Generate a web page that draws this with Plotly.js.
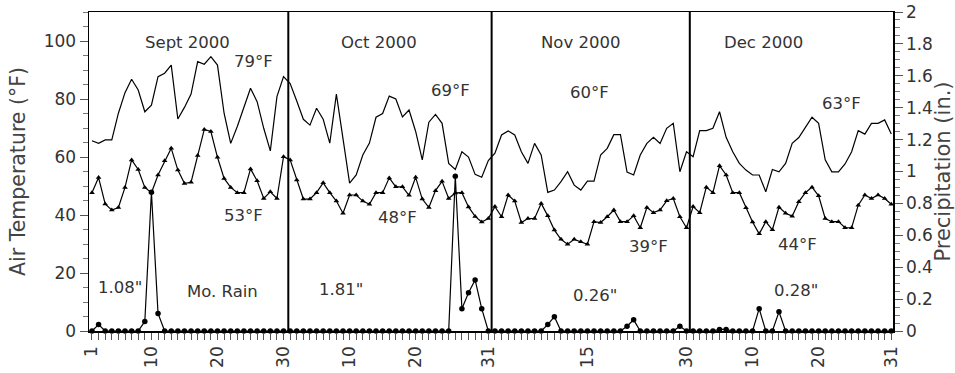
<!DOCTYPE html>
<html>
<head>
<meta charset="utf-8">
<script src="https://cdn.plot.ly/plotly-3.0.1.min.js"></script>
<style>
  html, body { margin: 0; padding: 0; background: #fff; }
  #chart { width: 955px; height: 373px; }
</style>
</head>
<body>
<div id="chart"></div>
<script>
// ---- data ----
const monthNames = ['Sept 2000', 'Oct 2000', 'Nov 2000', 'Dec 2000'];
const daysInMonth = [30, 31, 30, 31];

const sepMax = [65.6, 64.7, 65.9, 65.9, 75.1, 82.2, 86.8, 83.1, 75.6, 77.9, 87.7, 88.9, 91.7, 73.1, 77.1, 81.7, 92.9, 92.0, 94.6, 91.7, 75.1, 64.7, 70.5, 77.4, 83.7, 79.1, 69.9, 62.1, 80.8, 87.7];
const octMax = [85.3, 79.3, 73.0, 71.0, 76.8, 73.0, 64.8, 81.7, 66.5, 51.0, 53.8, 60.7, 64.8, 73.7, 75.0, 81.0, 80.0, 73.8, 76.2, 68.8, 59.0, 72.0, 74.7, 71.6, 57.8, 55.7, 61.8, 60.0, 54.0, 53.0, 58.8];
const novMax = [61.3, 67.6, 69.0, 67.6, 61.8, 57.8, 64.7, 60.7, 47.8, 48.6, 51.5, 54.9, 50.3, 48.6, 51.7, 51.7, 60.7, 63.0, 67.7, 67.7, 54.8, 53.8, 60.7, 64.7, 66.8, 64.7, 69.9, 71.6, 54.9, 61.8];
const decMax = [60.1, 69.1, 69.1, 69.9, 75.6, 66.8, 61.8, 57.8, 55.5, 53.8, 53.8, 48.0, 55.7, 54.9, 57.8, 64.7, 66.7, 70.2, 73.7, 71.6, 59.0, 54.9, 54.9, 57.6, 61.8, 69.1, 67.9, 71.6, 71.6, 72.8, 67.9];

const sepMin = [47.7, 52.9, 43.8, 41.7, 42.6, 49.5, 59.0, 55.7, 49.5, 47.7, 53.8, 58.7, 63.0, 55.5, 50.9, 51.3, 60.5, 69.5, 68.8, 59.9, 52.6, 49.5, 47.7, 47.7, 55.9, 51.8, 45.7, 48.0, 45.7, 60.1];
const octMin = [59.0, 52.1, 45.5, 45.5, 47.7, 51.1, 47.7, 44.8, 40.6, 46.9, 46.9, 44.8, 43.7, 47.7, 47.7, 52.8, 49.7, 49.7, 46.8, 53.0, 45.5, 42.6, 48.4, 51.6, 45.7, 47.6, 47.7, 42.8, 39.5, 37.6, 38.8];
const novMin = [42.9, 39.4, 46.9, 44.8, 37.4, 38.8, 38.8, 44.0, 39.7, 34.8, 31.6, 29.9, 31.6, 30.8, 29.9, 37.7, 37.4, 39.4, 41.7, 37.7, 37.7, 39.7, 35.6, 42.6, 40.8, 41.7, 44.9, 45.7, 39.4, 35.6];
const decMin = [42.9, 40.8, 49.6, 47.7, 57.0, 53.8, 47.7, 47.7, 42.5, 37.6, 33.5, 37.7, 34.9, 42.7, 40.6, 39.6, 44.6, 47.7, 49.6, 46.6, 38.8, 37.7, 37.7, 35.6, 35.6, 43.4, 46.9, 45.7, 46.9, 45.7, 43.7];

const sepRain = [0, 0.04, 0, 0, 0, 0, 0, 0, 0.06, 0.87, 0.11, 0, 0, 0, 0, 0, 0, 0, 0, 0, 0, 0, 0, 0, 0, 0, 0, 0, 0, 0];
const octRain = [0, 0, 0, 0, 0, 0, 0, 0, 0, 0, 0, 0, 0, 0, 0, 0, 0, 0, 0, 0, 0, 0, 0, 0, 0, 0.97, 0.14, 0.24, 0.32, 0.14, 0];
const novRain = [0, 0, 0, 0, 0, 0, 0, 0, 0.04, 0.09, 0, 0, 0, 0, 0, 0, 0, 0, 0, 0, 0.03, 0.07, 0, 0, 0, 0, 0, 0, 0.03, 0];
const decRain = [0, 0, 0, 0, 0.01, 0.01, 0, 0, 0, 0, 0.14, 0, 0, 0.12, 0, 0, 0, 0, 0, 0, 0, 0, 0, 0, 0, 0, 0, 0, 0, 0, 0];

const maxMeanLabels = ['79°F', '69°F', '60°F', '63°F'];
const minMeanLabels = ['53°F', '48°F', '39°F', '44°F'];
const rainTotalLabels = ['1.08"', '1.81"', '0.26"', '0.28"'];
const tickDaysByMonth = [[1, 10, 20, 30], [10, 20, 31], [15, 30], [10, 20, 31]];

// ---- derived ----
const maxTemp = sepMax.concat(octMax, novMax, decMax);
const minTemp = sepMin.concat(octMin, novMin, decMin);
const rain = sepRain.concat(octRain, novRain, decRain);
const monthStart = [];
let acc = 0;
daysInMonth.forEach(d => { monthStart.push(acc); acc += d; });
const nDays = acc;
const xIdx = Array.from({length: nDays}, (_, i) => i);

const tickvals = xIdx.slice();
const ticktext = xIdx.map(() => '');
tickDaysByMonth.forEach((days, m) => {
  days.forEach(d => { ticktext[monthStart[m] + d - 1] = String(d); });
});

const ink = '#000';
const txt = '#333';
const fontFam = 'DejaVu Sans, Verdana, sans-serif';

const traces = [
  {
    x: xIdx, y: maxTemp, type: 'scatter', mode: 'lines',
    line: {color: ink, width: 1.2}, hoverinfo: 'skip', cliponaxis: false
  },
  {
    x: xIdx, y: minTemp, type: 'scatter', mode: 'lines+markers',
    line: {color: ink, width: 1.2},
    marker: {symbol: 'triangle-up', size: 5, color: ink},
    hoverinfo: 'skip', cliponaxis: false
  },
  {
    x: xIdx, y: rain, type: 'scatter', mode: 'lines+markers', yaxis: 'y2',
    line: {color: ink, width: 1.2},
    marker: {symbol: 'circle', size: 5.5, color: ink},
    hoverinfo: 'skip', cliponaxis: false
  }
];

// month separator lines (between last day of month and first of next)
const shapes = monthStart.slice(1).map((s, k) => ({
  type: 'line', xref: 'x', yref: 'paper',
  x0: s - (k === 0 ? 0.28 : 0.5), x1: s - (k === 0 ? 0.28 : 0.5), y0: 0, y1: 1,
  line: {color: ink, width: 2}
}));

const annFont = {family: fontFam, size: 16.5, color: txt};
const ann = (text, x, y) => ({text, x, y, xref: 'x', yref: 'y', showarrow: false, font: annFont, xanchor: 'center', yanchor: 'middle'});
const annotations = [
  ann(monthNames[0], 14.5, 99.5), ann(monthNames[1], 43.4, 99.5), ann(monthNames[2], 73.9, 99.5), ann(monthNames[3], 101.6, 99.5),
  ann(maxMeanLabels[0], 24.5, 92.9), ann(maxMeanLabels[1], 54.3, 82.9), ann(maxMeanLabels[2], 75.3, 82.1), ann(maxMeanLabels[3], 113.5, 78.3),
  ann(minMeanLabels[0], 22.9, 39.7), ann(minMeanLabels[1], 46.2, 39.3), ann(minMeanLabels[2], 84.2, 29.3), ann(minMeanLabels[3], 106.8, 30.0),
  ann(rainTotalLabels[0], 4.3, 15.0), ann(rainTotalLabels[1], 37.7, 14.3), ann(rainTotalLabels[2], 76.2, 12.4), ann(rainTotalLabels[3], 106.5, 14.0),
  ann('Mo. Rain', 19.75, 13.6)
];

const layout = {
  width: 955, height: 373,
  margin: {l: 89, r: 62, t: 12, b: 42, pad: 0},
  paper_bgcolor: '#fff', plot_bgcolor: '#fff',
  showlegend: false,
  font: {family: fontFam, size: 16.5, color: txt},
  xaxis: {
    range: [-0.45, 121.26], showgrid: false, zeroline: false,
    showline: true, linecolor: ink, linewidth: 1.5, mirror: true,
    tickmode: 'array', tickvals: tickvals, ticktext: ticktext,
    ticks: 'outside', ticklen: 7, tickwidth: 1, tickcolor: '#555',
    tickangle: -90, tickfont: {family: fontFam, size: 17, color: txt}
  },
  yaxis: {
    range: [0, 110], showgrid: false, zeroline: false,
    showline: true, linecolor: ink, linewidth: 1.5,
    tickmode: 'linear', tick0: 0, dtick: 20,
    ticks: 'outside', ticklen: 8, tickwidth: 1, tickcolor: '#555',
    minor: {dtick: 5, ticks: 'outside', ticklen: 5, tickcolor: '#777', showgrid: false},
    tickfont: {family: fontFam, size: 17, color: txt},
    title: {text: 'Air Temperature (°F)', font: {family: fontFam, size: 20.5, color: '#444'}, standoff: 12}
  },
  yaxis2: {
    range: [0, 2], overlaying: 'y', side: 'right', showgrid: false, zeroline: false,
    showline: true, linecolor: ink, linewidth: 1.5,
    tickmode: 'linear', tick0: 0, dtick: 0.2,
    ticks: 'outside', ticklen: 8, tickwidth: 1, tickcolor: '#555',
    minor: {dtick: 0.05, ticks: 'outside', ticklen: 5, tickcolor: '#777', showgrid: false},
    tickfont: {family: fontFam, size: 17, color: txt},
    title: {text: 'Precipitation (in.)', font: {family: fontFam, size: 21, color: '#444'}, standoff: 12}
  },
  shapes: shapes,
  annotations: annotations
};

Plotly.newPlot('chart', traces, layout, {displayModeBar: false, staticPlot: true});
</script>
</body>
</html>
